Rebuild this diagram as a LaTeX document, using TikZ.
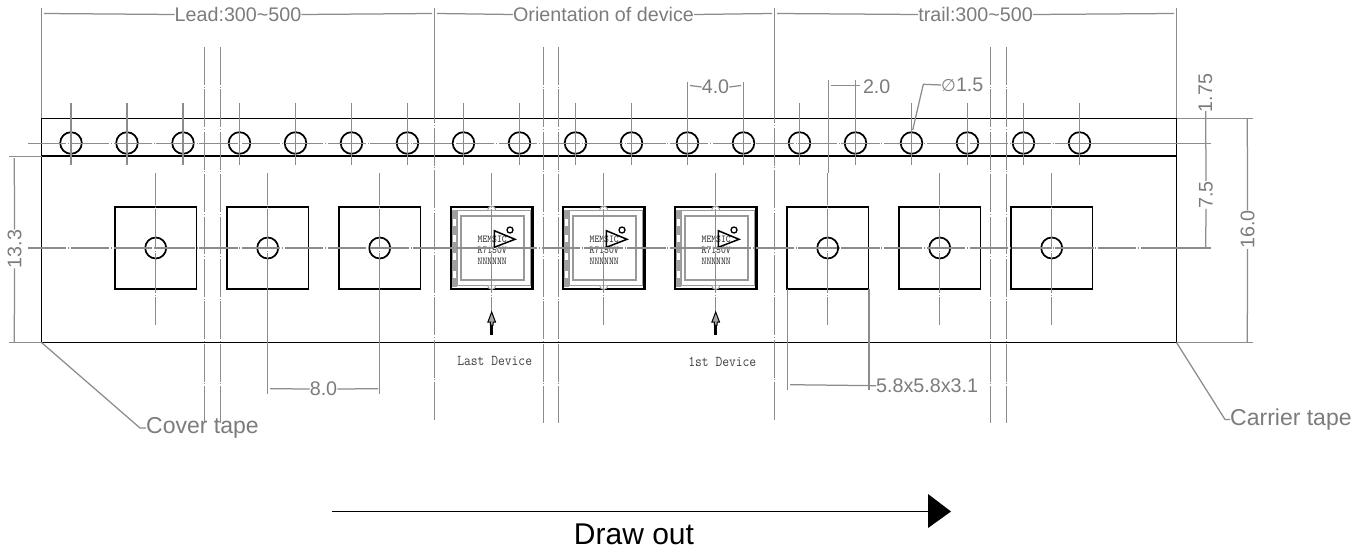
\documentclass[tikz,border=0pt]{standalone}
\usepackage{fontspec}
\setmainfont{Liberation Sans}
\newfontfamily\symfont{DejaVu Sans}
\definecolor{dimgray}{HTML}{8C8C8C}
\definecolor{dimtext}{HTML}{7C7C7C}
\definecolor{lbltext}{HTML}{404040}
\tikzset{
  x=1pt,y=-1pt,
  blk/.style={draw=black,line width=1.7pt},
  gln/.style={draw=dimgray,line width=1.25pt},
  cline/.style={draw=dimgray,line width=1.25pt,dash pattern=on 38.4pt off 1.7pt on 1pt off 1.7pt},
  brk/.style={draw=dimgray,line width=1.4pt,dash pattern=on 37.8pt off 1.8pt on 1pt off 1.8pt},
  cvert/.style={draw=dimgray,line width=1.25pt,dash pattern=on 40pt off 1.5pt on 1pt off 1.5pt,dash phase=8pt},
  dimt/.style={inner sep=0pt,text=dimtext,font=\fontsize{19.7}{20}\selectfont},
  dimv/.style={dimt,rotate=90},
  callout/.style={inner sep=0pt,text=dimtext,font=\fontsize{23}{24}\selectfont,anchor=west},
  chip/.style={inner sep=0pt,text=black!85,font=\ttfamily\fontsize{10.5}{11}\selectfont,xscale=.88},
  devlbl/.style={inner sep=0pt,text=lbltext,font=\ttfamily\fontsize{15}{16}\selectfont,xscale=.88},
  pocket/.pic={
    \draw[blk] (-40.8,-40.8) rectangle (40.8,40.8);
    \draw[blk] (0,0) circle (10.5);
  },
  device/.pic={
    \fill[gray!75] (-39.5,-38.5) rectangle (-34.5,38.5);
    \foreach \yy in {-26,-9.7,8.7,26}{\fill[white] (-38.8,\yy-3.5) rectangle (-35.5,\yy+3.5);}
    \draw[draw=gray!80,line width=0.9pt] (-34.5,-38) rectangle (38.5,37.5);
    \draw[draw=gray!80,line width=1.7pt] (-30.7,-32) rectangle (32.3,32);
    \draw[draw=black,line width=2.2pt] (-40.8,-40.8) rectangle (40.8,40.8);
    \draw[draw=gray!80,fill=white,line width=0.9pt] (-4,-38) arc[start angle=180,end angle=360,radius=4];
    \draw[draw=gray!80,fill=white,line width=0.9pt] (-4,37.5) arc[start angle=180,end angle=0,radius=4];
    \node[chip] at (0.5,-9) {MEMSIC};
    \node[chip] at (0.5,2.7) {R7150V};
    \node[chip] at (0.5,13.7) {NNNNNN};
    \draw[draw=black,line width=1.5pt,line join=miter] (2.6,-17.3) -- (23.3,-8.7) -- (2.6,-0.7) -- cycle;
    \draw[draw=black,line width=1.3pt] (18.3,-18) circle (3);
  },
  uparrow/.pic={
    \fill[black] (-1.5,10) rectangle (1.5,23);
    \draw[draw=black,fill=gray!70,line width=1pt,line join=miter] (0,0) -- (3.8,10) -- (1.3,10) -- (1.3,13) -- (-1.3,13) -- (-1.3,10) -- (-3.8,10) -- cycle;
  }
}
\begin{document}
\begin{tikzpicture}
\useasboundingbox[fill=white] (0,0) rectangle (1371,552);

% tape outline
\draw[blk] (41.5,118.5) rectangle (1176.5,342.5);
\draw[blk] (41.5,156.3) -- (1176.5,156.3);

% pockets and devices
\foreach \px in {155.7,267.7,379.7,827.7,939.7,1051.7}{\pic at (\px,248) {pocket};}
\foreach \px in {491.7,603.7,715.7}{\pic at (\px,248) {device};}

% sprocket holes
\foreach \hx in {71,127,183,239.5,295.5,351.5,407.5,463.5,519.5,575.5,631.5,687.5,743.5,799.5,855.5,911.5,967.5,1023.5,1079.5}{
  \draw[blk] (\hx,143) circle (10.8);
  \draw[gln] (\hx,103) -- (\hx,165);
}

% centre lines
\draw[cline] (28,143.2) -- (1085,143.2);
\draw[gln] (1085,143.2) -- (1211,143.2);
\draw[cline] (28,248) -- (1176,248);
\draw[gln] (1176,248) -- (1211,248);
\foreach \px in {155.7,267.7,379.7,491.7,603.7,715.7,827.7,939.7,1051.7}{
  \draw[cvert] (\px,173) -- (\px,325);
}

% break lines
\foreach \bx in {204.3,220.3,543.3,558.3,990.3,1006.3}{\draw[brk] (\bx,47) -- (\bx,423);}
\foreach \bx in {434.5,774.3}{
  \draw[brk,dash phase=4pt] (\bx,47) -- (\bx,420);
  \draw[gln] (\bx,8) -- (\bx,118);
}

% extension lines
\draw[gln] (41.5,8) -- (41.5,118);
\draw[gln] (1176.5,8) -- (1176.5,118);
\draw[gln] (9,156.3) -- (41.5,156.3);
\draw[gln] (9,342.5) -- (41.5,342.5);
\draw[gln] (1176.5,118.5) -- (1253,118.5);
\draw[gln] (1176.5,342.5) -- (1253,342.5);

% top dimensions
\node[dimt] (lead) at (238,14.5) {Lead:300\textasciitilde 500};
\node[dimt] (orient) at (603.5,14.5) {Orientation of device};
\node[dimt] (trail) at (975.5,14.5) {trail:300\textasciitilde 500};
\draw[gln] (44,13.5) -- (lead.west);
\draw[gln] (lead.east) -- (432,13.5);
\draw[gln] (437,13.5) -- (orient.west);
\draw[gln] (orient.east) -- (772,13.5);
\draw[gln] (777,13.5) -- (trail.west);
\draw[gln] (trail.east) -- (1174,13.5);

% pitch 4.0
\node[dimt] (dfour) at (715.5,87) {4.0};
\draw[gln] (687.5,82) -- (687.5,103);
\draw[gln] (743.5,82) -- (743.5,103);
\draw[gln] (690,85.5) -- (dfour.west);
\draw[gln] (dfour.east) -- (741,85.5);

% 2.0
\node[dimt] (dtwo) at (876.7,87) {2.0};
\draw[gln] (828.3,80) -- (828.3,173);
\draw[gln] (855.5,80) -- (855.5,103);
\draw[gln] (831,85.3) -- (859.5,85.3);

% diameter
\node[dimt,anchor=west] (dia) at (941,85) {{\symfont\fontsize{17}{18}\selectfont ∅}1.5};
\coordinate (diaA) at (912.7,130);
\draw[gln] (diaA) -- (923.3,84.3) -- (dia.west);

% 13.3
\node[dimv] (dthirteen) at (14.5,249) {13.3};
\draw[gln] (14.3,158) -- (dthirteen.east);
\draw[gln] (dthirteen.west) -- (14.3,342);

% right dimensions
\node[dimv] (donefive) at (1205.5,93) {1.75};
\node[dimv] (dseven) at (1206,195) {7.5};
\node[dimv] (dsixteen) at (1247.5,229.7) {16.0};
\draw[gln] (1205.7,111) -- (dseven.east);
\draw[gln] (dseven.west) -- (1205.7,247.5);
\draw[gln] (1247.3,119) -- (dsixteen.east);
\draw[gln] (dsixteen.west) -- (1247.3,342);

% 8.0
\node[dimt] (deight) at (323.5,389) {8.0};
\draw[gln] (267.7,289) -- (267.7,394);
\draw[gln] (379.7,289) -- (379.7,394);
\draw[gln] (270,388.7) -- (deight.west);
\draw[gln] (deight.east) -- (378,388.7);

% package size
\node[dimt,anchor=west] (dsize) at (876,385.7) {5.8x5.8x3.1};
\draw[gln] (787.5,289) -- (787.5,390);
\draw[gln] (869,289) -- (869,390);
\draw[gln] (790,384.7) -- (dsize.west);

% callouts
\node[callout] (cover) at (146,428) {Cover tape};
\node[callout] (carrier) at (1230,419.5) {Carrier tape};
\coordinate (coverA) at (41.5,342.5);
\coordinate (carrierA) at (1176.5,342.5);
\draw[gln] (coverA) -- (140,428) -- (cover.west);
\draw[gln] (carrierA) -- (1225,419.5) -- (carrier.west);

% device markers
\pic at (491.7,312) {uparrow};
\pic at (715.7,312) {uparrow};
\node[devlbl] (last) at (494.7,360.5) {Last Device};
\node[devlbl] (first) at (722.3,362) {1st Device};

% draw-out arrow
\coordinate (outA) at (332,511.5);
\coordinate (outB) at (930,511.5);
\draw[draw=black,line width=1.8pt] (outA) -- (outB);
\fill[black] (928,494) -- (951,511.5) -- (928,528) -- cycle;
\node[inner sep=0pt,font=\fontsize{30}{32}\selectfont] (drawout) at (634,534) {Draw out};
\end{tikzpicture}
\end{document}
